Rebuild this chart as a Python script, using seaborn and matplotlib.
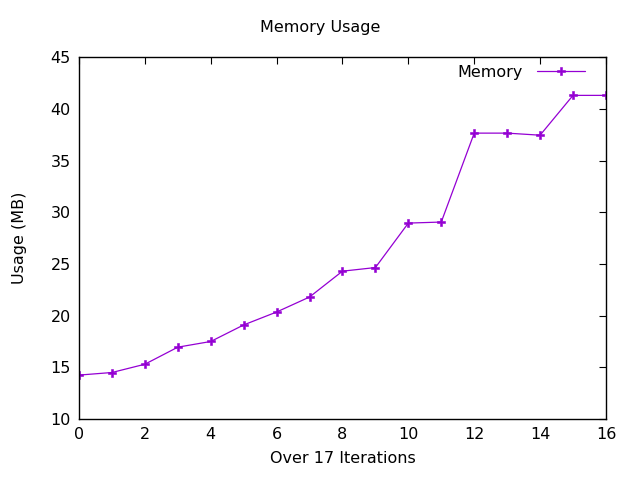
import matplotlib
matplotlib.use("Agg")
import matplotlib.pyplot as plt
import seaborn as sns
import pandas as pd

iterations = list(range(17))
memory_mb = [14.25, 14.5, 15.3, 16.95, 17.5, 19.1, 20.35, 21.8, 24.3, 24.65,
             28.95, 29.05, 37.65, 37.65, 37.45, 41.3, 41.3]
x_ticks = [0, 2, 4, 6, 8, 10, 12, 14, 16]
y_ticks = [10, 15, 20, 25, 30, 35, 40, 45]

sns.set_theme(style="white")
plt.rcParams['font.family'] = ['DejaVu Sans']
plt.rcParams['text.color'] = 'black'
plt.rcParams['axes.labelcolor'] = 'black'

df = pd.DataFrame({"Iteration": iterations, "Memory": memory_mb})

fig = plt.figure(figsize=(6.4, 4.8), dpi=100)
ax = fig.add_axes([0.1234, 0.127, 0.8234, 0.754])
sns.lineplot(data=df, x="Iteration", y="Memory", ax=ax, color="#9400D3",
             linewidth=0.9, marker="P", markersize=5.6, markeredgewidth=0.4,
             markeredgecolor="#9400D3", markerfacecolor="#9400D3",
             label="Memory")

ax.set_xlim(0, 16)
ax.set_ylim(10, 45)
ax.set_xticks(x_ticks)
ax.set_yticks(y_ticks)
ax.tick_params(direction="in", length=5, width=0.8, top=True, right=True,
               labelsize=11.5, colors="black", pad=6)
for s in ax.spines.values():
    s.set_color("black")
    s.set_linewidth(1)
ax.set_xlabel("Over 17 Iterations", fontsize=11.5, labelpad=6, color="black")
ax.set_ylabel("Usage (MB)", fontsize=11.5, labelpad=17, color="black")
fig.suptitle("Memory Usage", fontsize=11.5, y=0.958, color="black")

leg = ax.legend(loc="upper right", frameon=False, markerfirst=False,
                fontsize=11.5, handlelength=3.0, handletextpad=0.9,
                bbox_to_anchor=(0.982, 1.01), borderaxespad=0.3)
for t in leg.get_texts():
    t.set_color("black")

fig.savefig("out.png", dpi=100)
